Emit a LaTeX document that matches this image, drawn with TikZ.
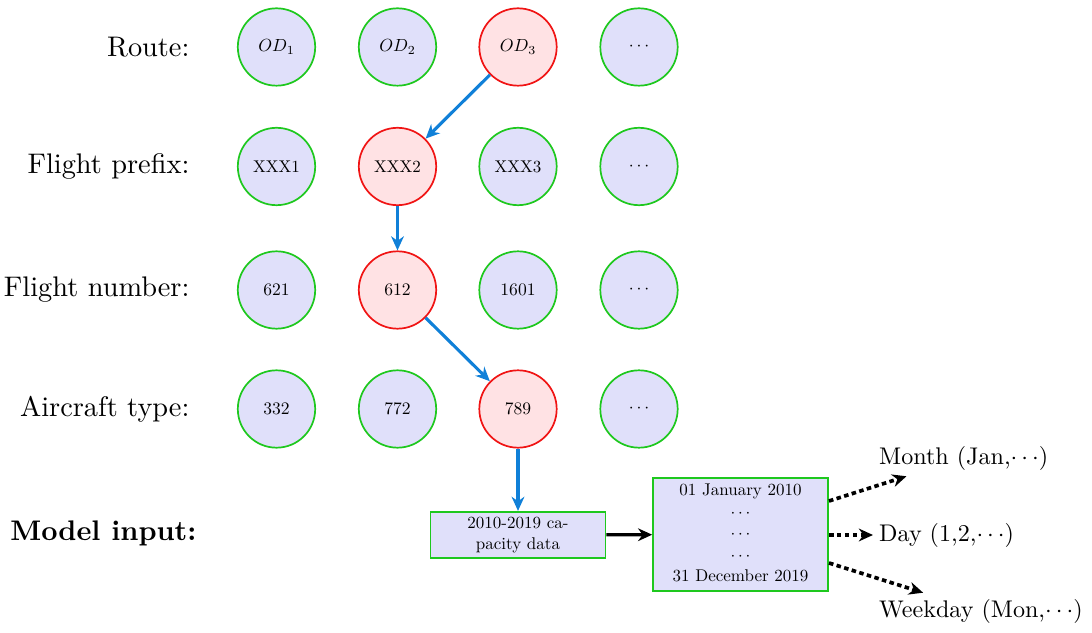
\documentclass[tikz,border=0pt]{standalone}
\usetikzlibrary{arrows.meta}
\definecolor{nodefill}{RGB}{224,224,250}
\definecolor{nodeedge}{RGB}{30,200,30}
\definecolor{hotfill}{RGB}{255,226,228}
\definecolor{hotedge}{RGB}{240,20,20}
\definecolor{pathblue}{RGB}{16,128,216}
% small labels: normal-size type shrunk, keeping the 10pt letter shapes
\newcommand{\shrunk}[2]{\scalebox{#1}{#2}}
\newcommand{\stack}[2][1]{{\renewcommand{\arraystretch}{#1}\begin{tabular}{@{}c@{}}#2\end{tabular}}}
\begin{document}
\begin{tikzpicture}[x=0.0124cm,y=-0.0124cm,
  rowlabel/.style={anchor=east,inner sep=0pt,font=\fontsize{10}{12}\selectfont},
  item/.style={circle,draw=nodeedge,fill=nodefill,line width=0.6pt,minimum size=0.96cm,inner sep=0pt,font=\fontsize{10}{12}\selectfont},
  chosen/.style={item,draw=hotedge,fill=hotfill},
  databox/.style={rectangle,draw=nodeedge,fill=nodefill,line width=0.6pt,minimum width=2.17cm,inner sep=1pt,align=center,font=\fontsize{10}{12}\selectfont},
  outlabel/.style={anchor=west,inner sep=2pt,font=\fontsize{10}{12}\selectfont},
  bluearrow/.style={draw=pathblue,line width=1.1pt,-{Stealth[length=5pt,width=4.5pt]}},
  blackarrow/.style={draw=black,line width=1.1pt,-{Stealth[length=5pt,width=4.5pt]}},
  dotarrow/.style={draw=black,line width=1.3pt,dash pattern=on 1.6pt off 1.2pt,-{Stealth[length=5pt,width=4.5pt]}}]
\useasboundingbox (0,0) rectangle (1092,633);

% row labels
\node[rowlabel] (lroute) at (190,47) {Route:};
\node[rowlabel] (lprefix) at (190,166.5) {Flight prefix:};
\node[rowlabel] (lnumber) at (190,290) {Flight number:};
\node[rowlabel] (ltype) at (190,409) {Aircraft type:};
\node[rowlabel,font=\fontsize{10}{12}\selectfont\bfseries] (lmodel) at (197,533) {Model input:};

% routes
\node[item] (od1) at (276.5,47) {\shrunk{0.62}{$OD_1$}};
\node[item] (od2) at (397.5,47) {\shrunk{0.62}{$OD_2$}};
\node[chosen] (od3) at (518,47) {\shrunk{0.62}{$OD_3$}};
\node[item] (od4) at (639,47) {\shrunk{0.62}{$\cdots$}};

% flight prefixes
\node[item] (p1) at (276.5,166.5) {\shrunk{0.6}{XXX1}};
\node[chosen] (p2) at (397.5,166.5) {\shrunk{0.6}{XXX2}};
\node[item] (p3) at (518,166.5) {\shrunk{0.6}{XXX3}};
\node[item] (p4) at (639,166.5) {\shrunk{0.62}{$\cdots$}};

% flight numbers
\node[item] (n1) at (276.5,290) {\shrunk{0.62}{621}};
\node[chosen] (n2) at (397.5,290) {\shrunk{0.62}{612}};
\node[item] (n3) at (518,290) {\shrunk{0.62}{1601}};
\node[item] (n4) at (639,290) {\shrunk{0.62}{$\cdots$}};

% aircraft types
\node[item] (t1) at (276.5,409) {\shrunk{0.62}{332}};
\node[item] (t2) at (397.5,409) {\shrunk{0.62}{772}};
\node[chosen] (t3) at (518,409) {\shrunk{0.62}{789}};
\node[item] (t4) at (639,409) {\shrunk{0.62}{$\cdots$}};

% model input
\node[databox,minimum height=0.57cm] (cap) at (518,535)
  {\shrunk{0.6}{\stack{2010-2019 ca-\\pacity data}}};
\node[databox,minimum height=1.33cm] (days) at (740.5,534.5)
  {\shrunk{0.6}{\stack[1.05]{01 January 2010\\$\cdots$\\$\cdots$\\$\cdots$\\31 December 2019}}};

\node[outlabel] (month) at (873,458) {\shrunk{0.85}{Month (Jan,$\cdots$)}};
\node[outlabel] (day) at (873,535) {\shrunk{0.85}{Day (1,2,$\cdots$)}};
\node[outlabel] (wday) at (873,611) {\shrunk{0.85}{Weekday (Mon,$\cdots$)}};

\coordinate (smonth) at (829,501);
\coordinate (sday) at (829,535);
\coordinate (swday) at (829,563);

% selection path
\draw[bluearrow] (od3) -- (p2);
\draw[bluearrow] (p2) -- (n2);
\draw[bluearrow] (n2) -- (t3);
\draw[bluearrow] (t3) -- (cap);
\draw[blackarrow] (cap) -- (days);

% derived features
\draw[dotarrow] (smonth) -- (month);
\draw[dotarrow] (sday) -- (day);
\draw[dotarrow] (swday) -- (wday);
\end{tikzpicture}
\end{document}
